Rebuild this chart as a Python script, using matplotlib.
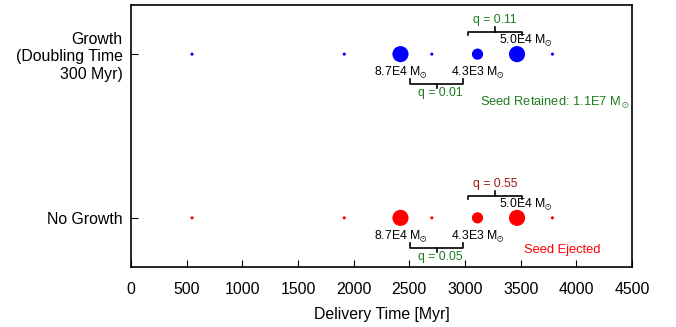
import matplotlib
matplotlib.use("Agg")
import matplotlib.pyplot as plt

# Data
times = [548, 1915, 2420, 2702, 3112, 3467, 3785]
marker_sizes = [5, 5, 135, 5, 65, 135, 5]
rows = [1, 0]
row_colors = ["blue", "red"]
row_labels = ["Growth\n(Doubling Time\n300 Myr)", "No Growth"]
mass_labels = ["8.7E4", "4.3E3", "5.0E4"]
mass_x = [2425, 3117, 3548]
q_top = ["q = 0.11", "q = 0.55"]
q_top_colors = ["#1e7d1e", "#a01818"]
q_bot = ["q = 0.01", "q = 0.05"]
top_span = (3027, 3512)
bot_span = (2506, 2984)
fate_text = [r"Seed Retained: 1.1E7 M$_\odot$", "Seed Ejected"]
fate_colors = ["#1e7d1e", "red"]
fate_x = [3135, 3530]
fate_dy = [-0.293, -0.195]
xticks = [0, 500, 1000, 1500, 2000, 2500, 3000, 3500, 4000, 4500]

plt.rcParams["font.family"] = ["Liberation Sans", "DejaVu Sans"]
plt.rcParams["mathtext.fontset"] = "custom"
plt.rcParams["mathtext.rm"] = "Liberation Sans"
plt.rcParams["mathtext.it"] = "Liberation Sans:italic"
plt.rcParams["mathtext.bf"] = "Liberation Sans:bold"
plt.rcParams["mathtext.fallback"] = "stixsans"

fig = plt.figure(figsize=(6.76, 3.27), dpi=100)
ax = fig.add_axes([0.1938, 0.1835, 0.935 - 0.1938, 0.9847 - 0.1835])

green = "#1e7d1e"
fs = 8.8
msun = r"M$_{\odot}$"
for r, c, qt, qc, qb, ft, fc, fx, fdy in zip(rows, row_colors, q_top, q_top_colors, q_bot,
                                              fate_text, fate_colors, fate_x, fate_dy):
    ax.scatter(times, [r] * len(times), s=marker_sizes, color=c, zorder=3, linewidths=0)
    # mass labels
    ax.text(mass_x[0], r - 0.11, mass_labels[0] + " " + msun, ha="center", va="center", fontsize=fs)
    ax.text(mass_x[1], r - 0.11, mass_labels[1] + " " + msun, ha="center", va="center", fontsize=fs)
    ax.text(mass_x[2], r + 0.085, mass_labels[2] + " " + msun, ha="center", va="center", fontsize=fs)
    # top bracket
    a, b = top_span
    m = (a + b) / 2
    ax.plot([a, a, b, b], [r + 0.116, r + 0.134, r + 0.134, r + 0.116], color="black", lw=1.2)
    ax.plot([m, m], [r + 0.134, r + 0.163], color="black", lw=1.2)
    ax.text(m, r + 0.208, qt, ha="center", va="center", fontsize=fs, color=qc)
    # bottom bracket
    a, b = bot_span
    m = (a + b) / 2
    ax.plot([a, a, b, b], [r - 0.153, r - 0.183, r - 0.183, r - 0.153], color="black", lw=1.2)
    ax.plot([m, m], [r - 0.183, r - 0.208], color="black", lw=1.2)
    ax.text(m + 30, r - 0.240, qb, ha="center", va="center", fontsize=fs, color=green)
    # fate
    ax.text(fx, r + fdy, ft, ha="left", va="center", fontsize=9.3, color=fc)

ax.set_xlim(0, 4500)
ax.set_ylim(-0.3, 1.3)
ax.set_xticks(xticks)
ax.set_yticks(rows)
ax.set_yticklabels(row_labels, ha="right", fontsize=11.4)
ax.tick_params(axis="both", direction="in", length=5, labelsize=11.4)
ax.tick_params(axis="y", pad=6)
ax.tick_params(axis="x", pad=11)
ax.set_xlabel("Delivery Time [Myr]", fontsize=11.4, labelpad=7)
for s in ax.spines.values():
    s.set_linewidth(1.2)

fig.savefig("out.png", dpi=100)
